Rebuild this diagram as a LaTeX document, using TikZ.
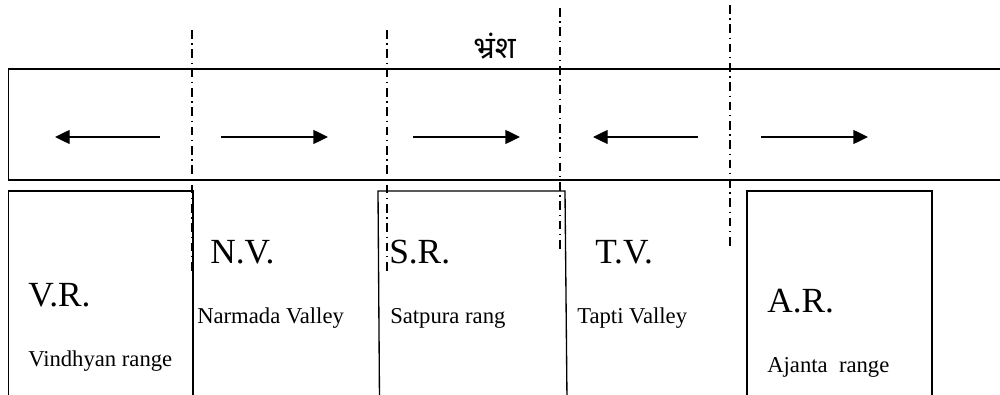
\documentclass[tikz,border=0pt]{standalone}
\usepackage{fontspec}
\setmainfont{Liberation Serif}
\newfontfamily\hindi[Script=Devanagari]{Noto Sans}
\usetikzlibrary{arrows.meta}

\tikzset{
    faultline/.style={line width=1pt, dash pattern=on 6.5pt off 3.5pt on 1pt off 3.5pt},
    blockline/.style={line width=1pt},
    movearrow/.style={line width=1pt, -{Triangle[length=11pt,width=10.5pt]}},
    bigname/.style={anchor=base west, inner sep=0pt, font=\fontsize{26.5}{30}\selectfont},
    smallname/.style={anchor=base west, inner sep=0pt, font=\fontsize{17}{20}\selectfont}
}

\begin{document}
\begin{tikzpicture}[x=0.75pt, y=-0.75pt]
    \useasboundingbox (0, 0) rectangle (1000, 395);
    \clip (0, 0) rectangle (1000, 395);

    % upper block
    \draw[blockline] (8.5, 69) rectangle (1010, 180);

    \foreach \xa / \xb in {160/55, 221/328, 413/520, 698/593, 761/868}
        \draw[movearrow] (\xa, 137) -- (\xb, 137);

    % lower blocks (open at the bottom)
    \draw[blockline] (8.5, 400) -- (8.5, 191) -- (193, 191) -- (193, 400);
    \draw[blockline] (379.5, 400) -- (378, 191) -- (565, 191) -- (567, 400);
    \draw[blockline] (747, 400) -- (747, 191) -- (932, 191) -- (932, 400);

    % faults
    \foreach \x / \ya / \yb in {192/30/272, 387/30/272, 560/8/250, 730/5/248}
        \draw[faultline] (\x, \ya) -- (\x, \yb);

    \node[inner sep=0pt, anchor=base west] (bhransh) at (473, 59) {\hindi\fontsize{23}{26}\selectfont भ्रंश};

    % labels
    \node[bigname] (vr) at (28, 306.7) {V.R.};
    \node[smallname] (vrname) at (28, 366.7) {Vindhyan range};
    \node[bigname] (nv) at (210, 263.3) {N.V.};
    \node[smallname] (nvname) at (197, 324) {Narmada Valley};
    \node[bigname] (sr) at (389, 263.3) {S.R.};
    \node[smallname] (srname) at (390, 324) {Satpura rang};
    \node[bigname] (tv) at (595, 263.3) {T.V.};
    \node[smallname] (tvname) at (577, 324) {Tapti Valley};
    \node[bigname] (ar) at (767, 312.7) {A.R.};
    \node[smallname] (arname) at (767, 372.7) {Ajanta\ \ range};

\end{tikzpicture}
\end{document}
